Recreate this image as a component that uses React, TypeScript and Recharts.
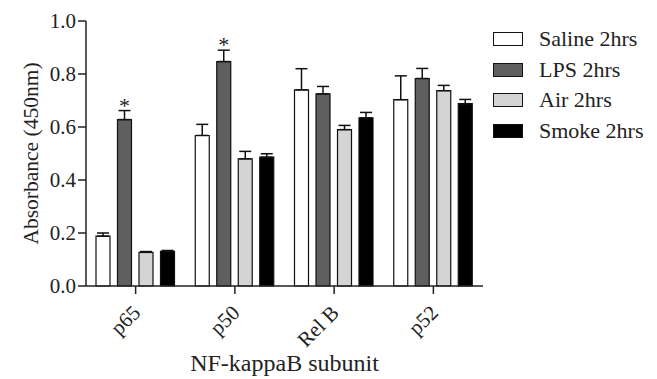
import React from "react";
import { BarChart, Bar, XAxis, YAxis, ErrorBar } from "recharts";

const categories = ["p65", "p50", "Rel B", "p52"];
const saline = [0.188, 0.568, 0.74, 0.703];
const salineErr = [0.012, 0.042, 0.08, 0.09];
const lps = [0.628, 0.847, 0.725, 0.783];
const lpsErr = [0.034, 0.043, 0.028, 0.038];
const air = [0.127, 0.48, 0.59, 0.737];
const airErr = [0.003, 0.028, 0.016, 0.02];
const smoke = [0.131, 0.486, 0.635, 0.688];
const smokeErr = [0.003, 0.013, 0.02, 0.016];
const starred = [true, true, false, false];
const yTicks = [0, 0.2, 0.4, 0.6, 0.8, 1.0];

const series = [
  { key: "saline", name: "Saline 2hrs", fill: "#ffffff" },
  { key: "lps", name: "LPS 2hrs", fill: "#5f5f5f" },
  { key: "air", name: "Air 2hrs", fill: "#d4d4d4" },
  { key: "smoke", name: "Smoke 2hrs", fill: "#000000" },
];

const data = categories.map((c, i) => ({
  name: c,
  saline: saline[i],
  salineErr: [0, salineErr[i]],
  lps: lps[i],
  lpsErr: [0, lpsErr[i]],
  air: air[i],
  airErr: [0, airErr[i]],
  smoke: smoke[i],
  smokeErr: [0, smokeErr[i]],
}));

const font = "Liberation Serif, Times New Roman, serif";

const XTick = ({ x, y, payload }: any) => (
  <text
    x={x + 6}
    y={y + 18}
    transform={`rotate(-45 ${x + 6} ${y + 18})`}
    textAnchor="end"
    fontSize={21}
    fontFamily={font}
    fill="#222"
  >
    {payload.value}
  </text>
);

// asterisk above the error bar of LPS
const StarLabel = (props: any) => {
  const { x, y, width, height, value, index } = props;
  if (!starred[index] || !value) return null;
  const top = y - (lpsErr[index] * height) / value;
  return (
    <text x={x + width / 2} y={top + 2} textAnchor="middle" fontSize={22} fontFamily={font} fill="#222">
      *
    </text>
  );
};

const LegendBox = () => (
  <div style={{ position: "absolute", left: 493, top: 24, fontFamily: font, fontSize: 22, color: "#222" }}>
    {series.map((s) => (
      <div key={s.key} style={{ display: "flex", alignItems: "center", height: 30.5 }}>
        <div style={{ width: 28, height: 12, background: s.fill, border: "1.2px solid #111", marginRight: 16 }} />
        <span>{s.name}</span>
      </div>
    ))}
  </div>
);

export default function App() {
  return (
    <div style={{ position: "absolute", left: 0, top: 0, width: 657, height: 379, background: "#fff" }}>
      <BarChart
        width={657}
        height={379}
        data={data}
        margin={{ top: 21, right: 174, left: 0, bottom: 0 }}
        barSize={14}
        barGap={7.5}
      >
        <XAxis
          dataKey="name"
          tick={<XTick />}
          tickSize={8}
          height={93}
          interval={0}
          axisLine={{ stroke: "#222", strokeWidth: 1.5 }}
          tickLine={{ stroke: "#222", strokeWidth: 1.5 }}
          label={{
            value: "NF-kappaB subunit",
            position: "insideBottom",
            offset: 8,
            fontSize: 24,
            fontFamily: font,
            fill: "#222",
            style: { fontFamily: font },
          }}
        />
        <YAxis
          domain={[0, 1]}
          ticks={yTicks}
          tickFormatter={(v: number) => v.toFixed(1)}
          width={86}
          tickSize={8}
          tick={{ fontSize: 21, fontFamily: font, fill: "#222" }}
          axisLine={{ stroke: "#222", strokeWidth: 1.5 }}
          tickLine={{ stroke: "#222", strokeWidth: 1.5 }}
          label={{
            value: "Absorbance (450nm)",
            angle: -90,
            position: "insideLeft",
            offset: 30,
            fontSize: 21.5,
            fontFamily: font,
            fill: "#222",
            style: { textAnchor: "middle", fontFamily: font },
          }}
        />
        {series.map((s) => (
          <Bar
            key={s.key}
            dataKey={s.key}
            name={s.name}
            fill={s.fill}
            stroke="#111"
            strokeWidth={1.2}
            isAnimationActive={false}
            label={s.key === "lps" ? <StarLabel /> : undefined}
          >
            <ErrorBar dataKey={`${s.key}Err`} width={6} stroke="#111" strokeWidth={1.5} direction="y" isAnimationActive={false} />
          </Bar>
        ))}
      </BarChart>
      <LegendBox />
    </div>
  );
}
